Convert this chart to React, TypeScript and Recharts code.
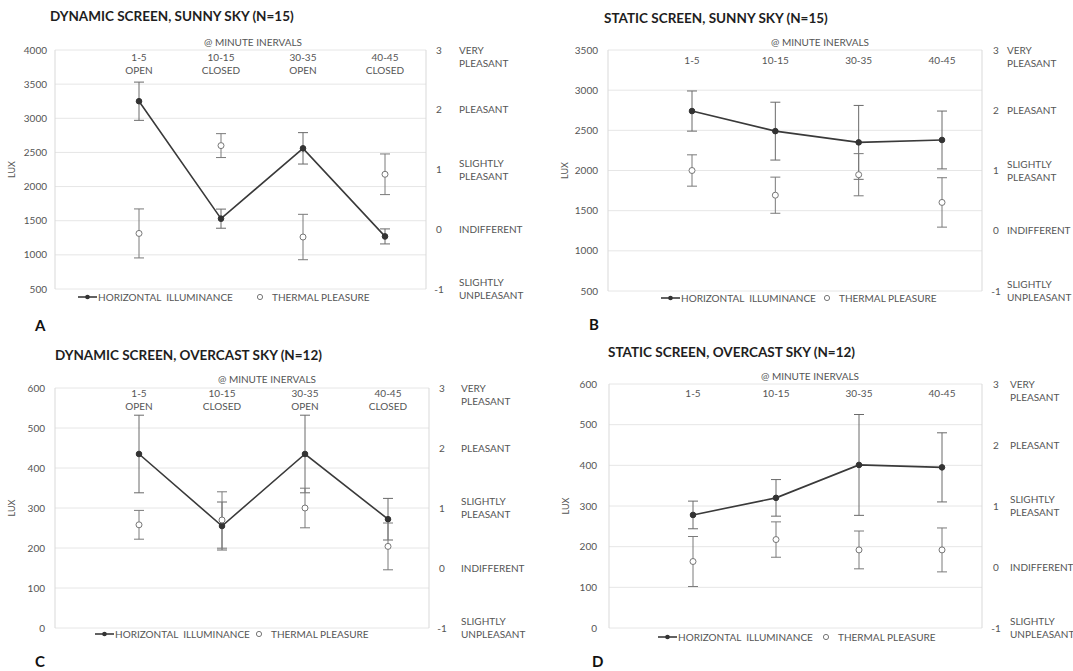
import { ComposedChart, Line, XAxis, YAxis, CartesianGrid, ErrorBar } from 'recharts';

// interval categories and screen states (dynamic panels only)
const intervals = ['1-5', '10-15', '30-35', '40-45'];
const screenStates = ['OPEN', 'CLOSED', 'OPEN', 'CLOSED'];

// A: dynamic screen, sunny sky
const luxDynSunny = [3250, 1530, 2560, 1270];
const luxErrDynSunny = [280, 140, 230, 110];
const thermDynSunny = [-0.07, 1.4, -0.13, 0.92];
const thermErrDynSunny = [0.41, 0.2, 0.38, 0.34];

// B: static screen, sunny sky
const luxStaSunny = [2740, 2490, 2350, 2380];
const luxErrStaSunny = [250, 360, 460, 360];
const thermStaSunny = [1.0, 0.59, 0.93, 0.47];
const thermErrStaSunny = [0.26, 0.3, 0.35, 0.41];

// C: dynamic screen, overcast sky
const luxDynOver = [435, 255, 435, 272];
const luxErrDynOver = [97, 60, 97, 52];
const thermDynOver = [0.72, 0.8, 1.0, 0.36];
const thermErrDynOver = [0.24, 0.47, 0.33, 0.39];

// D: static screen, overcast sky
const luxStaOver = [278, 320, 401, 395];
const luxErrStaOver = [34, 45, 124, 85];
const thermStaOver = [0.09, 0.45, 0.28, 0.28];
const thermErrStaOver = [0.41, 0.29, 0.31, 0.36];

const sunnyTicks = [500, 1000, 1500, 2000, 2500, 3000, 3500, 4000];
const sunnyTicksB = [500, 1000, 1500, 2000, 2500, 3000, 3500];
const overcastTicks = [0, 100, 200, 300, 400, 500, 600];
const pleasureTicks = [-1, 0, 1, 2, 3];
const pleasureLabels: Record<string, string[]> = {
  '3': ['VERY', 'PLEASANT'],
  '2': ['PLEASANT'],
  '1': ['SLIGHTLY', 'PLEASANT'],
  '0': ['INDIFFERENT'],
  '-1': ['SLIGHTLY', 'UNPLEASANT'],
};

const FONT = 'Lato, "Open Sans", sans-serif';
const TXT = '#555';
const FS = 10;

const buildRows = (lux: number[], luxErr: number[], therm: number[], thermErr: number[]) =>
  intervals.map((cat, i) => ({
    cat,
    lux: lux[i],
    luxErr: luxErr[i],
    therm: therm[i],
    thermErr: thermErr[i],
  }));

type Panel = {
  letter: string;
  title: string;
  left: number;
  top: number;
  rows: ReturnType<typeof buildRows>;
  luxDomain: [number, number];
  luxTicks: number[];
  showState: boolean;
  plot: { top: number; right: number; bottom: number; left: number }; // plot edges, panel-local
  pad: { left: number; right: number };
  leftLabelX: number;
  catY: number;
  minuteX: number;
  minuteY: number;
  rightNumX: number;
  rightTextX: number;
  titleX: number;
  titleY: number;
  legendY: number;
  legendX: number;
  legend2X: number;
  letterX: number;
  letterY: number;
};

const panels: Panel[] = [
  {
    letter: 'A',
    title: 'DYNAMIC SCREEN, SUNNY SKY (N=15)',
    left: 0,
    top: 0,
    rows: buildRows(luxDynSunny, luxErrDynSunny, thermDynSunny, thermErrDynSunny),
    luxDomain: [500, 4000],
    luxTicks: sunnyTicks,
    showState: true,
    plot: { top: 50, right: 426, bottom: 289, left: 55 },
    pad: { left: 84, right: 41 },
    leftLabelX: 47,
    catY: 57,
    minuteX: 253,
    minuteY: 42,
    rightNumX: 439,
    rightTextX: 459,
    titleX: 50,
    titleY: 16,
    legendY: 297,
    legendX: 78,
    legend2X: 260,
    letterX: 35,
    letterY: 325,
  },
  {
    letter: 'B',
    title: 'STATIC SCREEN, SUNNY SKY (N=15)',
    left: 530,
    top: 0,
    rows: buildRows(luxStaSunny, luxErrStaSunny, thermStaSunny, thermErrStaSunny),
    luxDomain: [500, 3500],
    luxTicks: sunnyTicksB,
    showState: false,
    plot: { top: 50, right: 452, bottom: 291, left: 78 },
    pad: { left: 84, right: 40 },
    leftLabelX: 68,
    catY: 60,
    minuteX: 290,
    minuteY: 42,
    rightNumX: 466,
    rightTextX: 477,
    titleX: 74,
    titleY: 18,
    legendY: 298,
    legendX: 131,
    legend2X: 297,
    letterX: 59,
    letterY: 324,
  },
  {
    letter: 'C',
    title: 'DYNAMIC SCREEN, OVERCAST SKY (N=12)',
    left: 0,
    top: 330,
    rows: buildRows(luxDynOver, luxErrDynOver, thermDynOver, thermErrDynOver),
    luxDomain: [0, 600],
    luxTicks: overcastTicks,
    showState: true,
    plot: { top: 58, right: 429, bottom: 298, left: 55 },
    pad: { left: 84, right: 41 },
    leftLabelX: 45,
    catY: 63,
    minuteX: 267,
    minuteY: 49,
    rightNumX: 442,
    rightTextX: 461,
    titleX: 55,
    titleY: 25,
    legendY: 304,
    legendX: 95,
    legend2X: 259,
    letterX: 35,
    letterY: 331,
  },
  {
    letter: 'D',
    title: 'STATIC SCREEN, OVERCAST SKY (N=12)',
    left: 530,
    top: 330,
    rows: buildRows(luxStaOver, luxErrStaOver, thermStaOver, thermErrStaOver),
    luxDomain: [0, 600],
    luxTicks: overcastTicks,
    showState: false,
    plot: { top: 54, right: 452, bottom: 298, left: 79 },
    pad: { left: 84, right: 40 },
    leftLabelX: 67,
    catY: 63,
    minuteX: 280,
    minuteY: 46,
    rightNumX: 466,
    rightTextX: 480,
    titleX: 78,
    titleY: 22,
    legendY: 307,
    legendX: 128,
    legend2X: 296,
    letterX: 62,
    letterY: 331,
  },
];

const W = 543;
const H = 335;
const AXW = 40; // reserved y-axis width
const AXH = 20; // reserved x-axis height

const LuxDot = (props: any) => {
  const { cx, cy } = props;
  if (cx == null || cy == null) return null;
  return <circle cx={cx} cy={cy} r={2.8} fill="#333" stroke="#333" />;
};

const ThermDot = (props: any) => {
  const { cx, cy } = props;
  if (cx == null || cy == null) return null;
  return <circle cx={cx} cy={cy} r={3} fill="#fff" stroke="#777" strokeWidth={1} />;
};

const PanelChart = ({ p }: { p: Panel }) => {
  const margin = {
    top: p.plot.top - AXH,
    left: p.plot.left - AXW,
    right: W - p.plot.right - AXW,
    bottom: H - p.plot.bottom,
  };

  const catTick = (props: any) => {
    const { x, index, payload } = props;
    return (
      <g>
        <text x={x} y={p.catY} dy={3.5} textAnchor="middle" fontSize={FS} fill={TXT} fontFamily={FONT}>
          {payload.value}
        </text>
        {p.showState && (
          <text x={x} y={p.catY + 13.5} dy={3.5} textAnchor="middle" fontSize={FS} fill={TXT} fontFamily={FONT}>
            {screenStates[index]}
          </text>
        )}
      </g>
    );
  };

  const leftTick = (props: any) => (
    <text x={p.leftLabelX} y={props.y} dy={3.5} textAnchor="end" fontSize={FS} fill={TXT} fontFamily={FONT}>
      {props.payload.value}
    </text>
  );

  const rightTick = (props: any) => {
    const v = String(props.payload.value);
    const lines = pleasureLabels[v] || [];
    const y = props.y;
    const ys =
      lines.length === 1 ? [y] : v === '3' ? [y, y + 13] : [y - 6.5, y + 6.5];
    return (
      <g>
        <text x={p.rightNumX} y={y} dy={3.5} textAnchor="middle" fontSize={FS} fill={TXT} fontFamily={FONT}>
          {v}
        </text>
        {lines.map((t, i) => (
          <text key={t + i} x={p.rightTextX} y={ys[i]} dy={3.5} textAnchor="start" fontSize={FS} fill={TXT} fontFamily={FONT}>
            {t}
          </text>
        ))}
      </g>
    );
  };

  return (
    <div style={{ position: 'absolute', left: p.left, top: p.top, width: W, height: H }}>
      <ComposedChart width={W} height={H} data={p.rows} margin={margin}>
        <CartesianGrid yAxisId="l" vertical={false} stroke="#e6e6e6" />
        <XAxis
          dataKey="cat"
          orientation="top"
          scale="point"
          padding={p.pad}
          height={AXH}
          axisLine={false}
          tickLine={false}
          tick={catTick}
          interval={0}
        />
        <YAxis
          yAxisId="l"
          orientation="left"
          width={AXW}
          domain={p.luxDomain}
          ticks={p.luxTicks}
          allowDataOverflow
          axisLine={{ stroke: '#d9d9d9' }}
          tickLine={false}
          tick={leftTick}
          interval={0}
        />
        <YAxis
          yAxisId="r"
          orientation="right"
          width={AXW}
          domain={[-1, 3]}
          ticks={pleasureTicks}
          allowDataOverflow
          axisLine={{ stroke: '#d9d9d9' }}
          tickLine={false}
          tick={rightTick}
          interval={0}
        />
        <Line
          yAxisId="l"
          dataKey="lux"
          type="linear"
          stroke="#3a3a3a"
          strokeWidth={1.6}
          dot={<LuxDot />}
          activeDot={false}
          isAnimationActive={false}
        >
          <ErrorBar dataKey="luxErr" direction="y" width={5} stroke="#6a6a6a" strokeWidth={1} isAnimationActive={false} />
        </Line>
        <Line
          yAxisId="r"
          dataKey="therm"
          type="linear"
          stroke="none"
          dot={<ThermDot />}
          activeDot={false}
          isAnimationActive={false}
        >
          <ErrorBar dataKey="thermErr" direction="y" width={5} stroke="#7a7a7a" strokeWidth={1} isAnimationActive={false} />
        </Line>
      </ComposedChart>
      <svg
        width={W}
        height={H + 30}
        style={{ position: 'absolute', left: 0, top: 0, pointerEvents: 'none', overflow: 'visible' }}
      >
        <text x={p.titleX} y={p.titleY} dy={4.5} fontSize={13.5} fontWeight={700} fill="#1e1e1e" fontFamily={FONT}>
          {p.title}
        </text>
        <text x={p.minuteX} y={p.minuteY} dy={3.5} textAnchor="middle" fontSize={FS} fill={TXT} fontFamily={FONT}>
          @ MINUTE INERVALS
        </text>
        <text
          x={0}
          y={0}
          transform={`translate(${p.plot.left - 40}, ${(p.plot.top + p.plot.bottom) / 2}) rotate(-90)`}
          textAnchor="middle"
          fontSize={9}
          fill={TXT}
          fontFamily={FONT}
        >
          LUX
        </text>
        <line x1={p.legendX} y1={p.legendY} x2={p.legendX + 19} y2={p.legendY} stroke="#3a3a3a" strokeWidth={1.6} />
        <circle cx={p.legendX + 9.5} cy={p.legendY} r={2.3} fill="#333" />
        <text x={p.legendX + 20} y={p.legendY} dy={3.5} fontSize={FS} fill={TXT} fontFamily={FONT}>
          HORIZONTAL&#160;&#160;ILLUMINANCE
        </text>
        <circle cx={p.legend2X} cy={p.legendY} r={2.6} fill="#fff" stroke="#777" />
        <text x={p.legend2X + 12} y={p.legendY} dy={3.5} fontSize={FS} fill={TXT} fontFamily={FONT}>
          THERMAL PLEASURE
        </text>
        <text x={p.letterX} y={p.letterY} dy={5.5} fontSize={15} fontWeight={700} fill="#111" fontFamily={FONT}>
          {p.letter}
        </text>
      </svg>
    </div>
  );
}

export default function App() {
  return (
    <div style={{ position: 'absolute', left: 0, top: 0, width: 1073, height: 671, background: '#fff' }}>
      {panels.map((p) => (
        <PanelChart key={p.letter} p={p} />
      ))}
    </div>
  );
}
